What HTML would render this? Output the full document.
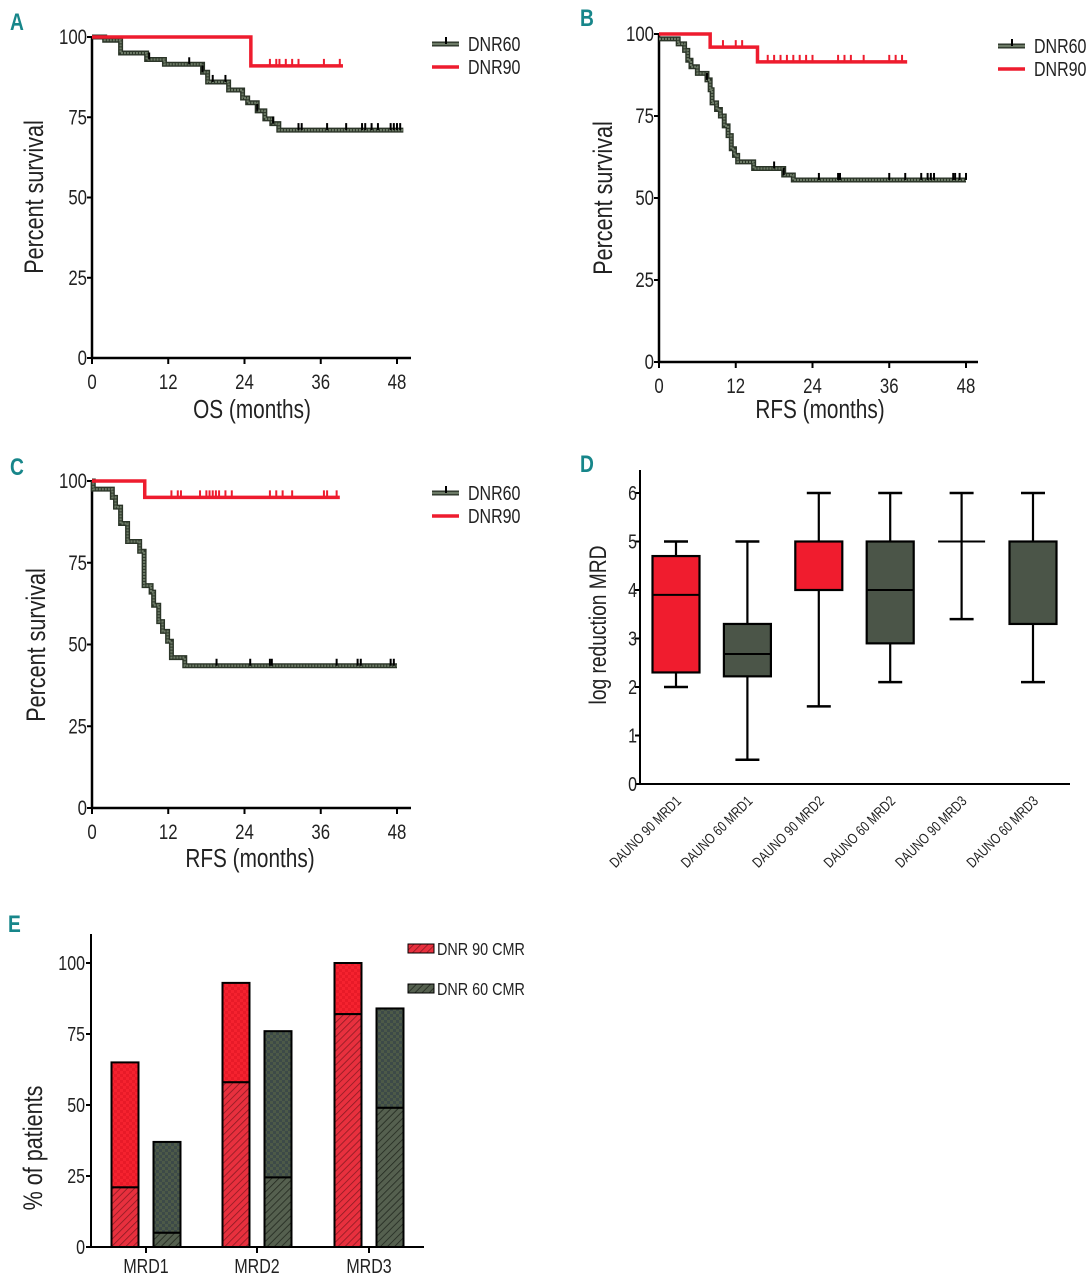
<!DOCTYPE html>
<html><head><meta charset="utf-8"><style>
html,body{margin:0;padding:0;background:#fff;}
svg{display:block;font-family:"Liberation Sans",sans-serif;}
.lbl{font-family:"Liberation Sans",sans-serif;font-weight:bold;fill:#17868a;font-size:24px;}
</style></head><body>
<svg id="fig" width="1092" height="1280" viewBox="0 0 1092 1280" xmlns="http://www.w3.org/2000/svg">
<defs>
<pattern id="redHatch" width="5" height="5" patternUnits="userSpaceOnUse" patternTransform="rotate(45)">
<rect width="5" height="5" fill="#e8303e"/><line x1="0" y1="0" x2="0" y2="5" stroke="#8a1a22" stroke-width="1.6"/></pattern>
<pattern id="redCheck" width="6" height="6" patternUnits="userSpaceOnUse">
<rect width="6" height="6" fill="#f5222f"/><rect width="3" height="3" fill="#e81a28"/><rect x="3" y="3" width="3" height="3" fill="#e81a28"/></pattern>
<pattern id="darkHatch" width="5" height="5" patternUnits="userSpaceOnUse" patternTransform="rotate(45)">
<rect width="5" height="5" fill="#55604f"/><line x1="0" y1="0" x2="0" y2="5" stroke="#22281f" stroke-width="1.6"/></pattern>
<pattern id="darkCheck" width="6" height="6" patternUnits="userSpaceOnUse">
<rect width="6" height="6" fill="#4d5a48"/><rect width="3" height="3" fill="#3d4a48"/><rect x="3" y="3" width="3" height="3" fill="#3d4a48"/></pattern>
</defs>
<g id="root"></g>
</svg>
<script>
// ---- Panel A (OS) ----
const aD60Times=[0,2,4.5,8.6,11.4,17.4,18.2,21.5,23.7,24.5,26,27.2,28.3,29.4];
const aD60Surv=[100,99,95,93,91.5,89,86,83.5,81,79.5,77,74.5,73,71];
const aD60End=49;
const aD60Cens=[9,15.3,17.4,19,21,26,28.5,32.5,33,37,40,42.5,43,44,45,47,47.5,48,48.5];
const aD90Times=[0,25];
const aD90Surv=[100,91];
const aD90End=39.5;
const aD90Cens=[28,29,29.5,30.5,31.5,32.5,36.5,39];
// ---- Panel B (RFS) ----
const bD60Times=[0,3,4,4.5,5,6,7.5,8,8.3,9,9.6,10.2,10.8,11.3,11.8,12.3,14.8,19.5,21];
const bD60Surv=[98.5,97,95,92,90,88,86,83,79,77,75,72,69,65,63,61,59,57,55.5];
const bD60End=48;
const bD60Cens=[7.5,18,19.5,25,28,28.3,36,38.5,41,42,42.5,43,46,46.3,47,48];
const bD90Times=[0,8,15.4];
const bD90Surv=[100,96,91.5];
const bD90End=38.8;
const bD90Cens=[10,12,13,17,18,19,20,21,22,23,24,28,29,30,32,36,37,38];
// ---- Panel C (RFS) ----
const cD60Times=[0,0.2,3.2,3.7,4.5,5.6,7.5,8.2,9.3,9.7,10.5,11.1,11.9,12.5,14.6];
const cD60Surv=[100,97.5,95,92,87,81.5,78.5,68,66,62,57,54,51,46,43.5];
const cD60End=48;
const cD60Cens=[19.6,24.9,28,28.3,38.5,41.8,42.3,47,47.5];
const cD90Times=[0,8.3];
const cD90Surv=[100,95];
const cD90End=39;
const cD90Cens=[12.5,13.5,14,17,18,18.5,19,19.5,20,21,22,28,29,30,31.5,36.5,37,38.5];
const kmTicksX=[0,12,24,36,48];
const kmTicksY=[0,25,50,75,100];
// ---- Panel D (box plot) ----
const boxCats=["DAUNO 90 MRD1","DAUNO 60 MRD1","DAUNO 90 MRD2","DAUNO 60 MRD2","DAUNO 90 MRD3","DAUNO 60 MRD3"];
const boxMin=[2,0.5,1.6,2.1,3.4,2.1];
const boxQ1=[2.3,2.22,4,2.9,5,3.3];
const boxMed=[3.9,2.68,4,4,5,3.3];
const boxQ3=[4.7,3.3,5,5,5,5];
const boxMax=[5,5,6,6,6,6];
const boxGroup=["90","60","90","60","90","60"];
const boxTicks=[0,1,2,3,4,5,6];
// ---- Panel E (stacked bars) ----
const barCats=["MRD1","MRD2","MRD3"];
const d90Total=[65,93,100];
const d90Lower=[21,58,82];
const d60Total=[37,76,84];
const d60Lower=[5,24.5,49];
const barTicks=[0,25,50,75,100];

const NS="http://www.w3.org/2000/svg";
const root=document.getElementById('root');
const SQ=0.8;
function mk(tag,attrs,parent,text){const e=document.createElementNS(NS,tag);for(const k in attrs)e.setAttribute(k,attrs[k]);if(text!==undefined)e.textContent=text;(parent||root).appendChild(e);return e;}
function txt(x,y,str,size,anchor,parent,rot){
  const tr=`translate(${x},${y})`+(rot?` rotate(${rot})`:'')+` scale(${SQ},1)`;
  return mk('text',{x:0,y:0,'text-anchor':anchor,'font-size':size,fill:'#222',transform:tr},parent,str);
}

function kmPanel(cfg){
  const g=mk('g',{});
  
  
  const sx=v=>cfg.x0+(cfg.x48-cfg.x0)*v/48;
  const sy=v=>cfg.y0-(cfg.y0-cfg.y100)*v/100;
  const t=mk('text',{x:cfg.lx,y:cfg.ly,class:'lbl',transform:`translate(${cfg.lx*(1-SQ)},0) scale(${SQ},1)`},g,cfg.letter);
  
  
  const ax=mk('path',{d:`M${sx(0)},${sy(100)} V${sy(0)} H${cfg.xEnd}`,stroke:'#000','stroke-width':2.5,fill:'none'},g);
  
  
  kmTicksY.forEach(v=>{
    mk('line',{x1:sx(0)-5,x2:sx(0),y1:sy(v),y2:sy(v),stroke:'#000','stroke-width':2},g);
    const tl=txt(sx(0)-5,sy(v)+7,String(v),21,'end',g);
    
    
  });
  kmTicksX.forEach(v=>{
    mk('line',{x1:sx(v),x2:sx(v),y1:sy(0),y2:sy(0)+6,stroke:'#000','stroke-width':2},g);
    const tl=txt(sx(v),sy(0)+31,String(v),21,'middle',g);
    
    
  });
  const xt=txt(cfg.xtX,cfg.xtY,cfg.xtitle,26,'middle',g);
  
  
  const yt=txt(cfg.ytX,cfg.ytY,'Percent survival',27,'middle',g,-90);
  
  
  function series(times,surv,end,cens,isRed,nm){
    let d=`M${sx(times[0])},${sy(surv[0])}`;
    for(let i=1;i<times.length;i++){d+=` H${sx(times[i])} V${sy(surv[i])}`;}
    d+=` H${sx(end)}`;
    if(isRed){
      const p=mk('path',{d,stroke:'#ee1c2e','stroke-width':3.5,fill:'none'},g);
      
      
    } else {
      mk('path',{d,stroke:'#2b3528','stroke-width':5,fill:'none'},g);
      const p=mk('path',{d,stroke:'#6c7a66','stroke-width':2.2,fill:'none','stroke-dasharray':'2 1'},g);
      
      
    }
    cens.forEach(c=>{
      let s=surv[0];for(let i=0;i<times.length;i++){if(times[i]<=c)s=surv[i];}
      const cm=mk('line',{x1:sx(c),x2:sx(c),y1:sy(s)-7,y2:sy(s),stroke:isRed?'#ee1c2e':'#000','stroke-width':2},g);
      
      
    });
  }
  series(cfg.d60[0],cfg.d60[1],cfg.d60[2],cfg.d60[3],false,'dnr60-curve');
  series(cfg.d90[0],cfg.d90[1],cfg.d90[2],cfg.d90[3],true,'dnr90-curve');
  const lg=mk('g',{},g);
  
  
  mk('line',{x1:cfg.legX,x2:cfg.legX+27,y1:cfg.legY,y2:cfg.legY,stroke:'#2b3528','stroke-width':5},lg);
  mk('line',{x1:cfg.legX,x2:cfg.legX+27,y1:cfg.legY,y2:cfg.legY,stroke:'#6c7a66','stroke-width':2.2},lg);
  mk('line',{x1:cfg.legX+14,x2:cfg.legX+14,y1:cfg.legY-7,y2:cfg.legY,stroke:'#000','stroke-width':2},lg);
  const l1=txt(cfg.legX+36,cfg.legY+7,'DNR60',20,'start',lg);
  
  
  mk('line',{x1:cfg.legX,x2:cfg.legX+27,y1:cfg.legY+23,y2:cfg.legY+23,stroke:'#ee1c2e','stroke-width':3.5},lg);
  const l2=txt(cfg.legX+36,cfg.legY+30,'DNR90',20,'start',lg);
  
  
}
kmPanel({name:'panel-a-os',letter:'A',lx:10,ly:30,x0:92,x48:397,y0:358,y100:37,xEnd:411,xtitle:'OS (months)',xtX:252,xtY:418,ytX:43,ytY:197,legX:432,legY:44,
 d60:[aD60Times,aD60Surv,aD60End,aD60Cens],d90:[aD90Times,aD90Surv,aD90End,aD90Cens]});
kmPanel({name:'panel-b-rfs',letter:'B',lx:580,ly:26,x0:659,x48:966,y0:362,y100:34,xEnd:978,xtitle:'RFS (months)',xtX:820,xtY:418,ytX:612,ytY:198,legX:998,legY:46,
 d60:[bD60Times,bD60Surv,bD60End,bD60Cens],d90:[bD90Times,bD90Surv,bD90End,bD90Cens]});
kmPanel({name:'panel-c-rfs',letter:'C',lx:10,ly:475,x0:92,x48:397,y0:808,y100:481,xEnd:411,xtitle:'RFS (months)',xtX:250,xtY:867,ytX:45,ytY:645,legX:432,legY:493,
 d60:[cD60Times,cD60Surv,cD60End,cD60Cens],d90:[cD90Times,cD90Surv,cD90End,cD90Cens]});

// ---- Panel D ----
(function(){
  const g=mk('g',{});
  
  
  const x0=640,xEnd=1070,y0=784,y6=493,cx0=676,step=71.4,bw=47,cw=24;
  const sy=v=>y0-(y0-y6)*v/6;
  const t=mk('text',{x:580,y:472,class:'lbl',transform:`translate(${580*(1-SQ)},0) scale(${SQ},1)`},g,'D');
  
  
  mk('path',{d:`M${x0},470 V${y0} H${xEnd}`,stroke:'#000','stroke-width':2,fill:'none'},g);
  boxTicks.forEach(v=>{
    mk('line',{x1:x0-5,x2:x0,y1:sy(v),y2:sy(v),stroke:'#000','stroke-width':2},g);
    const tl=txt(x0-3,sy(v)+7,String(v),20,'end',g);
    
    
  });
  const yt=txt(606,625,'log reduction MRD',24,'middle',g,-90);
  
  
  boxCats.forEach((c,i)=>{
    const cx=cx0+i*step;
    const bg=mk('g',{},g);
    
    
    mk('line',{x1:cx,x2:cx,y1:sy(boxMax[i]),y2:sy(boxMin[i]),stroke:'#000','stroke-width':2.2},bg);
    mk('line',{x1:cx-cw/2,x2:cx+cw/2,y1:sy(boxMax[i]),y2:sy(boxMax[i]),stroke:'#000','stroke-width':2.5},bg);
    mk('line',{x1:cx-cw/2,x2:cx+cw/2,y1:sy(boxMin[i]),y2:sy(boxMin[i]),stroke:'#000','stroke-width':2.5},bg);
    const h=sy(boxQ1[i])-sy(boxQ3[i]);
    if(h>0.5){
      mk('rect',{x:cx-bw/2,y:sy(boxQ3[i]),width:bw,height:h,fill:boxGroup[i]==='90'?'#f01c2e':'#4b5548',stroke:'#000','stroke-width':2.2},bg);
    }
    mk('line',{x1:cx-bw/2,x2:cx+bw/2,y1:sy(boxMed[i]),y2:sy(boxMed[i]),stroke:'#000','stroke-width':2},bg);
    const tl=txt(cx+6,y0+18,c,14.5,'end',g,-45);
    
    
  });
})();

// ---- Panel E ----
(function(){
  const g=mk('g',{});
  
  
  const x0=91,xEnd=424,y0=1247,y100=963,bw=27;
  const sy=v=>y0-(y0-y100)*v/100;
  const groupCx=[146,257,369];
  const t=mk('text',{x:8,y:932,class:'lbl',transform:`translate(${8*(1-SQ)},0) scale(${SQ},1)`},g,'E');
  
  
  mk('path',{d:`M${x0},934 V${y0} H${xEnd}`,stroke:'#000','stroke-width':2,fill:'none'},g);
  barTicks.forEach(v=>{
    mk('line',{x1:x0-5,x2:x0,y1:sy(v),y2:sy(v),stroke:'#000','stroke-width':2},g);
    const tl=txt(x0-6,sy(v)+7,String(v),20,'end',g);
    
    
  });
  const yt=txt(42,1148,'% of patients',27,'middle',g,-90);
  
  
  barCats.forEach((c,i)=>{
    const cx=groupCx[i];
    mk('line',{x1:cx,x2:cx,y1:y0,y2:y0+6,stroke:'#000','stroke-width':2},g);
    const tl=txt(cx,y0+26,c,20,'middle',g);
    
    
    const specs=[[cx-21,d90Total[i],d90Lower[i],'redCheck','redHatch','bar-dnr90-'+c.toLowerCase()],[cx+21,d60Total[i],d60Lower[i],'darkCheck','darkHatch','bar-dnr60-'+c.toLowerCase()]];
    specs.forEach(s=>{
      const bg=mk('g',{},g);
      
      
      mk('rect',{x:s[0]-bw/2,y:sy(s[1]),width:bw,height:sy(s[2])-sy(s[1]),fill:`url(#${s[3]})`,stroke:'#000','stroke-width':2},bg);
      mk('rect',{x:s[0]-bw/2,y:sy(s[2]),width:bw,height:y0-sy(s[2]),fill:`url(#${s[4]})`,stroke:'#000','stroke-width':2},bg);
    });
  });
  const lg=mk('g',{},g);
  
  
  mk('rect',{x:408,y:944,width:26,height:9,fill:'url(#redHatch)',stroke:'#000','stroke-width':1},lg);
  const l1=txt(437,955,'DNR 90 CMR',18,'start',lg);
  
  
  mk('rect',{x:408,y:984,width:26,height:9,fill:'url(#darkHatch)',stroke:'#000','stroke-width':1},lg);
  const l2=txt(437,995,'DNR 60 CMR',18,'start',lg);
  
  
})();
</script>
</body></html>
